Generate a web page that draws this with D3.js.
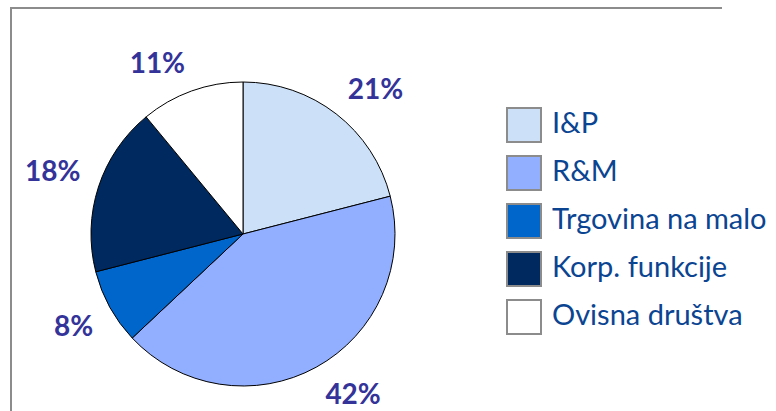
<!DOCTYPE html>
<html>
<head>
<meta charset="utf-8">
<script src="https://cdn.jsdelivr.net/npm/d3@7"></script>
<style>
  body { margin: 0; background: #fff; }
</style>
</head>
<body>
<svg width="776" height="411"></svg>
<script>
const categories = ["I&P", "R&M", "Trgovina na malo", "Korp. funkcije", "Ovisna društva"];
const values = [21, 42, 8, 18, 11];
const colors = ["#cce0f8", "#91aeff", "#0066cc", "#002960", "#ffffff"];

const svg = d3.select("svg");

// FRAME
svg.append("path")
    .attr("d", "M11,411 V8 H722")
    .attr("fill", "none")
    .attr("stroke", "#8c8c8c")
    .attr("stroke-width", 2);

const cx = 243, cy = 234, radius = 152;
const labelRadius = 171;

const data = categories.map((c, i) => ({ name: c, value: values[i], color: colors[i] }));

const pie = d3.pie().sort(null).value(d => d.value);
const arc = d3.arc().innerRadius(0).outerRadius(radius);

const chart = svg.append("g")
    .attr("transform", `translate(${cx},${cy})`);

// SLICES
chart.selectAll("path.slice")
    .data(pie(data))
    .enter()
    .append("path")
    .attr("class", "slice")
    .attr("d", arc)
    .attr("fill", d => d.data.color)
    .attr("stroke", "#000")
    .attr("stroke-width", 1);

// LABELS (outside end: nearest corner of the label sits on the slice's mid angle)
function mid(d) { return (d.startAngle + d.endAngle) / 2; }

chart.selectAll("text.label")
    .data(pie(data))
    .enter()
    .append("text")
    .attr("class", "label")
    .attr("x", d => labelRadius * Math.sin(mid(d)))
    .attr("y", d => -labelRadius * Math.cos(mid(d)) + (Math.cos(mid(d)) > 0 ? -10 : 10))
    .attr("text-anchor", d => Math.sin(mid(d)) > 0 ? "start" : "end")
    .attr("dy", "0.35em")
    .attr("font-family", "Lato, 'Open Sans', sans-serif")
    .attr("font-weight", "bold")
    .attr("font-size", "28px")
    .attr("fill", "#333399")
    .text(d => d.data.value + "%");

// LEGEND
const legend = svg.append("g")
    .attr("transform", "translate(507,108)");

const items = legend.selectAll("g")
    .data(data)
    .enter()
    .append("g")
    .attr("transform", (d, i) => `translate(0,${i * 48})`);

items.append("rect")
    .attr("width", 34)
    .attr("height", 34)
    .attr("fill", d => d.color)
    .attr("stroke", "#8c8c8c")
    .attr("stroke-width", 2);

items.append("text")
    .attr("x", 45)
    .attr("y", 25)
    .attr("font-family", "Lato, 'Open Sans', sans-serif")
    .attr("font-size", "29px")
    .attr("fill", "#0b4592")
    .text(d => d.name);
</script>
</body>
</html>
